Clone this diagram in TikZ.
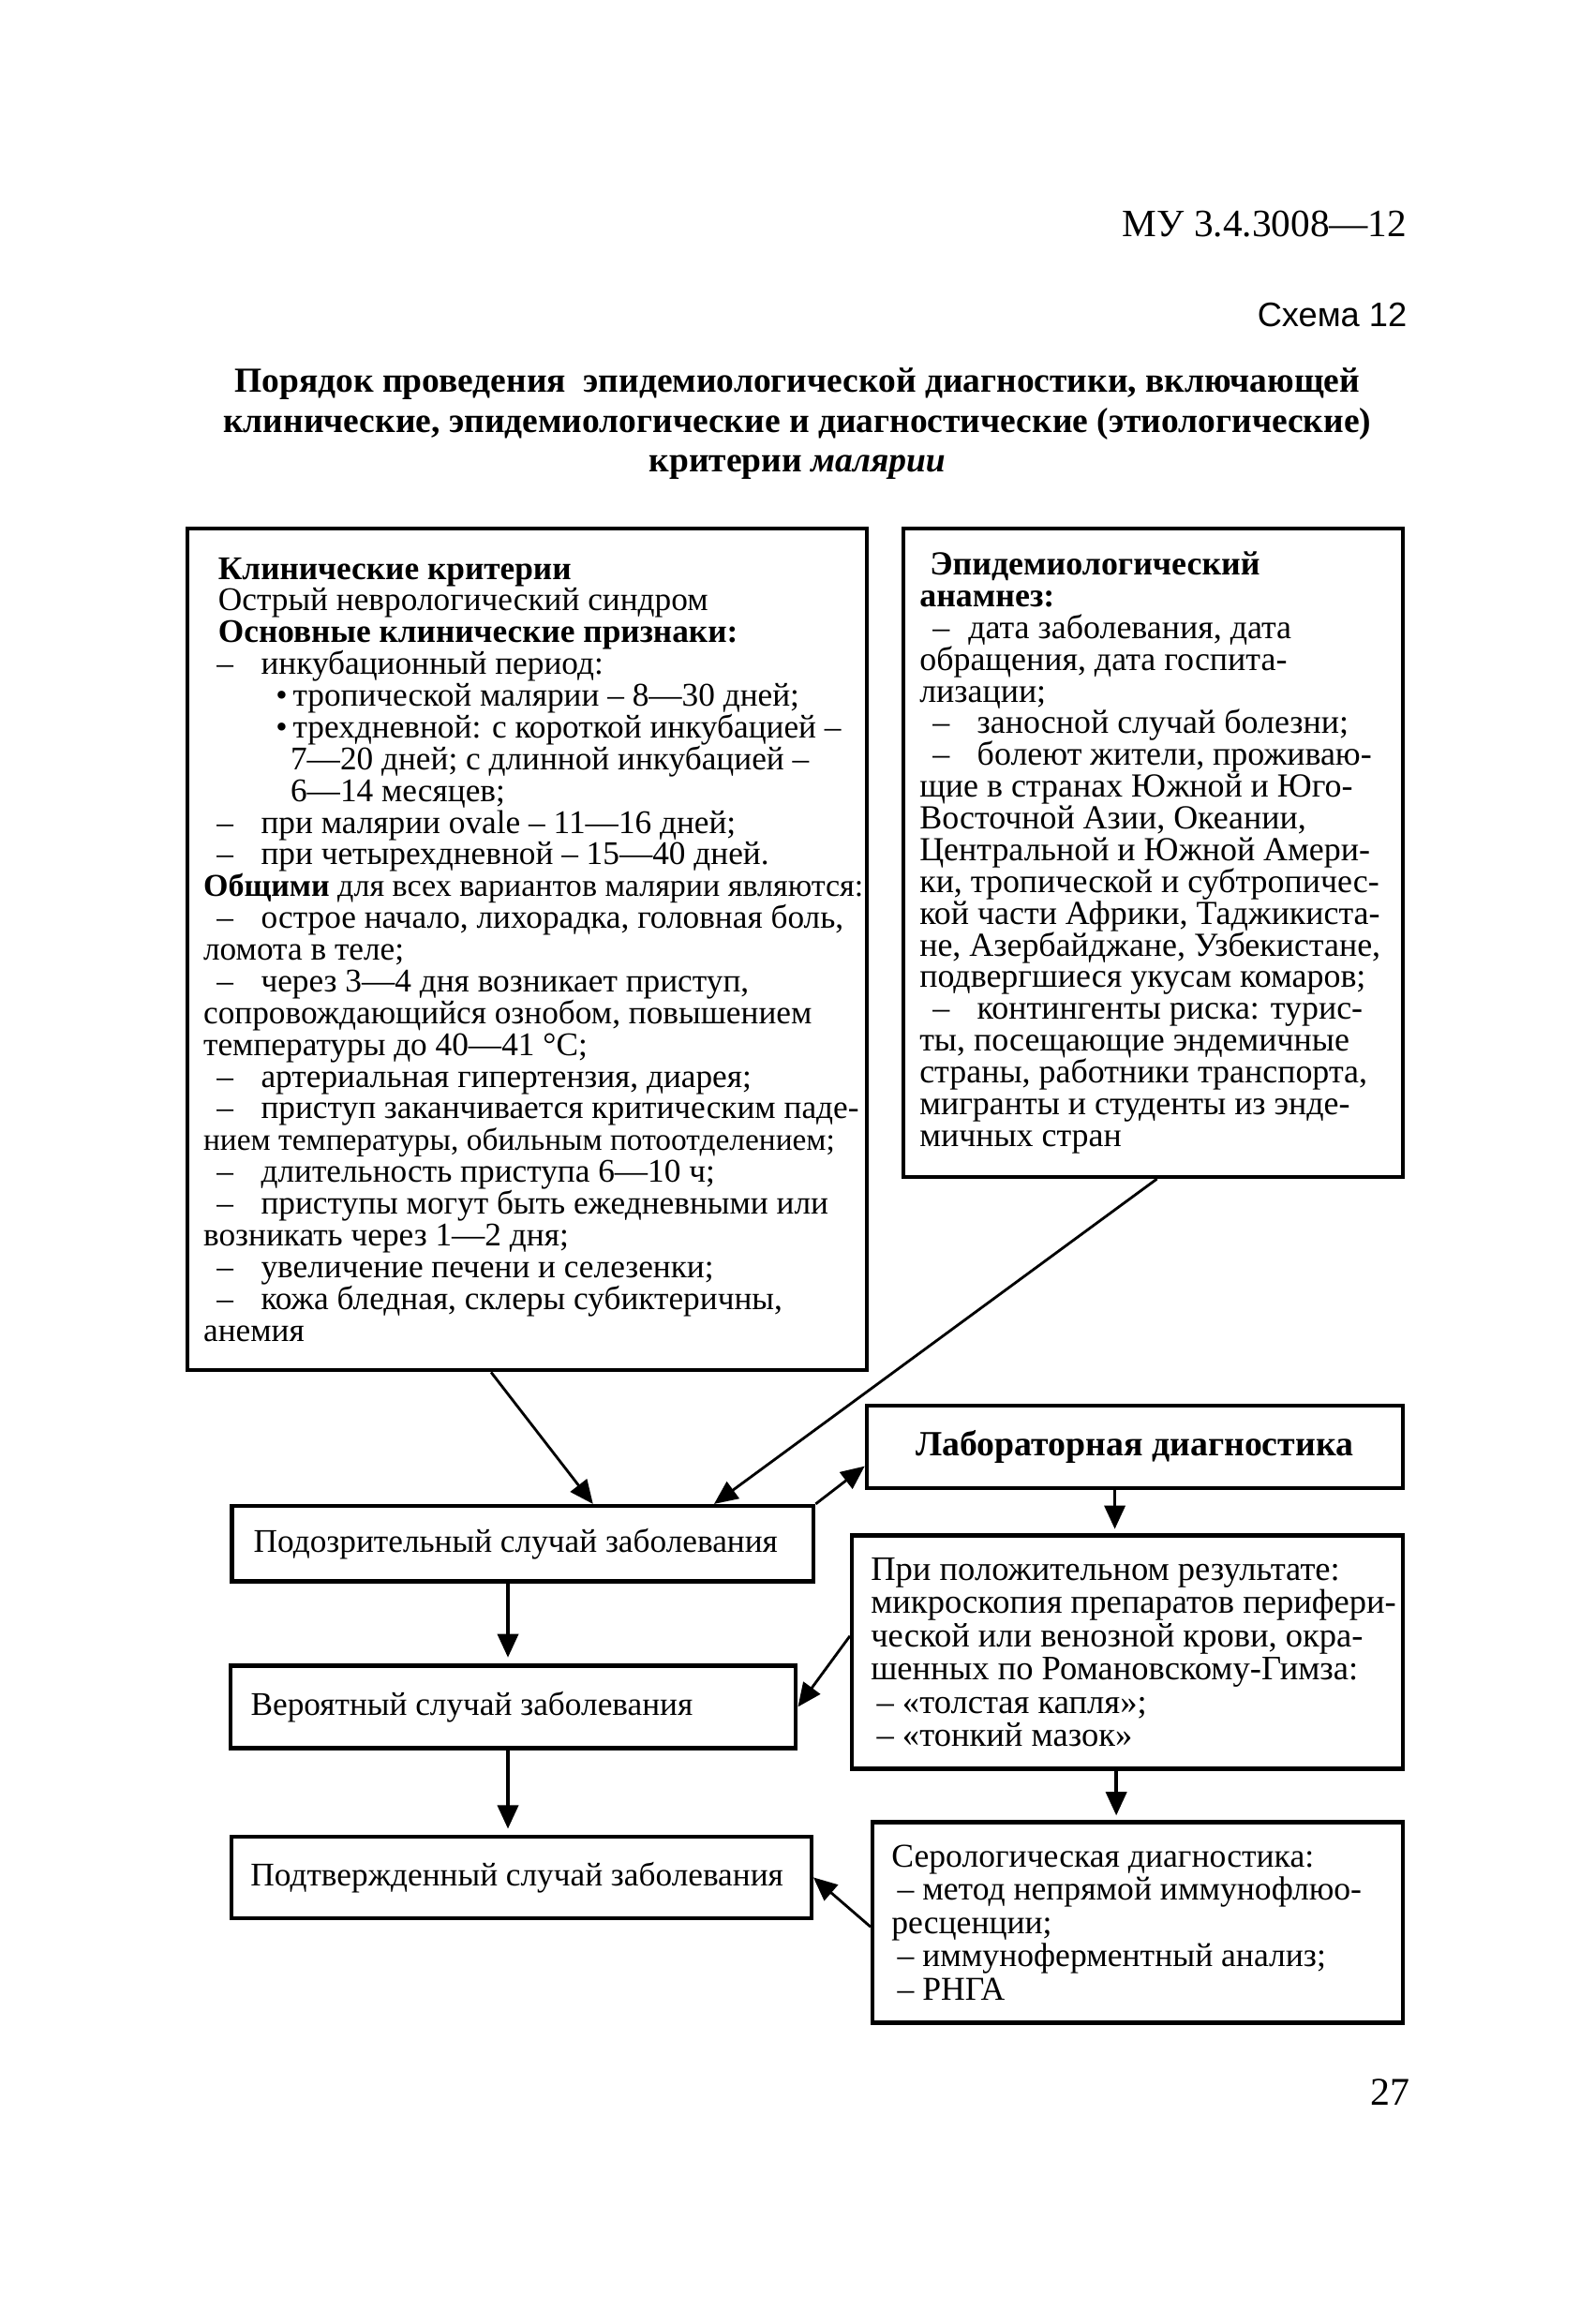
\documentclass[tikz,border=0pt]{standalone}
\usepackage{fontspec}
\setmainfont{Liberation Serif}
\newfontfamily\schemafont{Liberation Sans}
\usetikzlibrary{arrows.meta}

\newcommand{\boxfont}{\fontsize{11.2}{10.75}\selectfont\lineskiplimit=-20pt\relax}
\newcommand{\epifont}{\fontsize{11.4}{10.75}\selectfont\lineskiplimit=-20pt\relax}
\newcommand{\microfont}{\fontsize{11.6}{11.25}\selectfont\lineskiplimit=-20pt\relax}
\newcommand{\serofont}{\fontsize{11.3}{11.25}\selectfont\lineskiplimit=-20pt\relax}
\newcommand{\ttlfont}{\fontsize{11.9}{13.5}\selectfont\bfseries\lineskiplimit=-20pt\relax}
\newcommand{\dl}{\hspace*{4.5pt}\makebox[15pt][l]{–}}

\begin{document}
\begin{tikzpicture}[x=1pt, y=-1pt, line width=1.2pt,
    >={Triangle[length=8pt,width=7pt]},
    box/.style={draw, line width=1.4pt, inner sep=0pt},
    txt/.style={inner sep=0pt, align=left, anchor=west, font=\boxfont}]
    \useasboundingbox (0,0) rectangle (540,787);

    \node[anchor=base east, inner sep=0pt, font=\fontsize{13.1}{15}\selectfont] (mu) at (477,80) {МУ 3.4.3008—12};
    \node[anchor=base east, inner sep=0pt, font=\schemafont\fontsize{11.5}{13}\selectfont] (schema) at (477,110.5) {Схема 12};
    \node[anchor=north, align=center, inner sep=0pt, font=\ttlfont] (title) at (270,124)
        {Порядок проведения \ эпидемиологической диагностики, включающей\\
         клинические, эпидемиологические и диагностические (этиологические)\\
         критерии \textit{малярии}};

    \node[box, minimum width=230pt, minimum height=285pt] (clin) at (178.5,321.5) {};
    \node[txt] (clintext) at ([xshift=5.5pt]clin.west)
        {\hspace*{5pt}\textbf{Клинические критерии}\\
         \hspace*{5pt}Острый неврологический синдром\\
         \hspace*{5pt}\textbf{Основные клинические признаки:}\\
         \dl инкубационный период:\\
         \hspace*{24.5pt}•\,тропической малярии – 8—30 дней;\\
         \hspace*{24.5pt}•\,трехдневной: с короткой инкубацией –\\
         \hspace*{29.5pt}7—20 дней; с длинной инкубацией –\\
         \hspace*{29.5pt}6—14 месяцев;\\
         \dl при малярии ovale – 11—16 дней;\\
         \dl при четырехдневной – 15—40 дней.\\
         {\fontsize{10.8}{10.75}\selectfont\textbf{Общими} для всех вариантов малярии являются:}\\
         \dl острое начало, лихорадка, головная боль,\\
         ломота в теле;\\
         \dl через 3—4 дня возникает приступ,\\
         сопровождающийся ознобом, повышением\\
         температуры до 40—41 °C;\\
         \dl артериальная гипертензия, диарея;\\
         \dl приступ заканчивается критическим паде-\\
         {\fontsize{10.6}{10.75}\selectfont нием температуры, обильным потоотделением;}\\
         \dl длительность приступа 6—10 ч;\\
         \dl приступы могут быть ежедневными или\\
         возникать через 1—2 дня;\\
         \dl увеличение печени и селезенки;\\
         \dl кожа бледная, склеры субиктеричны,\\
         анемия};

    \node[box, minimum width=169pt, minimum height=219.5pt] (epi) at (390.5,288.75) {};
    \node[txt, font=\epifont] (epitext) at ([xshift=5.5pt]epi.west)
        {\hspace*{3.5pt}\textbf{Эпидемиологический}\\
         \textbf{анамнез:}\\
         \hspace*{4.5pt}\makebox[12pt][l]{–}дата заболевания, дата\\
         обращения, дата госпита-\\
         лизации;\\
         \dl заносной случай болезни;\\
         \dl болеют жители, проживаю-\\
         щие в странах Южной и Юго-\\
         Восточной Азии, Океании,\\
         Центральной и Южной Амери-\\
         ки, тропической и субтропичес-\\
         кой части Африки, Таджикиста-\\
         не, Азербайджане, Узбекистане,\\
         подвергшиеся укусам комаров;\\
         \dl контингенты риска: турис-\\
         ты, посещающие эндемичные\\
         страны, работники транспорта,\\
         мигранты и студенты из энде-\\
         мичных стран};

    \node[box, minimum width=181.5pt, minimum height=28pt, font=\fontsize{12}{13}\selectfont\bfseries] (lab) at (384.25,490) {Лабораторная диагностика};

    \node[box, minimum width=197pt, minimum height=25.5pt] (susp) at (177,522.75) {};
    \node[txt] (susptext) at ([xshift=7.5pt]susp.west) {Подозрительный случай заболевания};

    \node[box, minimum width=186.5pt, minimum height=79pt] (micro) at (381.75,559.5) {};
    \node[txt, font=\microfont] (microtext) at ([xshift=6.5pt]micro.west)
        {При положительном результате:\\
         микроскопия препаратов перифери-\\
         ческой или венозной крови, окра-\\
         шенных по Романовскому-Гимза:\\
         \hspace*{2pt}– «толстая капля»;\\
         \hspace*{2pt}– «тонкий мазок»};

    \node[box, minimum width=191.5pt, minimum height=28pt] (prob) at (173.75,578) {};
    \node[txt] (probtext) at ([xshift=7pt]prob.west) {Вероятный случай заболевания};

    \node[box, minimum width=179.5pt, minimum height=68pt] (sero) at (385.25,651) {};
    \node[txt, font=\serofont] (serotext) at ([xshift=6.5pt]sero.west)
        {Серологическая диагностика:\\
         \hspace*{2pt}– метод непрямой иммунофлюо-\\
         ресценции;\\
         \hspace*{2pt}– иммуноферментный анализ;\\
         \hspace*{2pt}– РНГА};

    \node[box, minimum width=196.25pt, minimum height=27.5pt] (conf) at (176.6,635.75) {};
    \node[txt] (conftext) at ([xshift=6.5pt]conf.west) {Подтвержденный случай заболевания};

    \node[anchor=east, inner sep=0pt, font=\fontsize{13.3}{15}\selectfont] (page) at (478,708.5) {27};

    \draw[->, line width=0.9pt] ([xshift=103.5pt]clin.south west) -- ([xshift=123pt]susp.north west);
    \draw[->, line width=0.9pt] ([xshift=86.5pt]epi.south west) -- ([xshift=164pt]susp.north west);
    \draw[->, line width=0.9pt] (susp.north east) -- ([yshift=-6.5pt]lab.west);
    \draw[->, shorten >=1.5pt] ([xshift=-6.75pt]lab.south) -- ([xshift=-4.25pt]micro.north);
    \draw[->, shorten >=2pt] ([xshift=-5pt]susp.south) -- ([xshift=-1.75pt]prob.north);
    \draw[->, line width=0.9pt] ([yshift=5.5pt]micro.west) -- (prob.east);
    \draw[->, shorten >=1.5pt] ([xshift=-3.75pt]micro.south) -- ([xshift=-7.25pt]sero.north);
    \draw[->, shorten >=2pt] ([xshift=-1.75pt]prob.south) -- ([xshift=-4.6pt]conf.north);
    \draw[->, line width=0.9pt] ([yshift=-1.5pt]sero.west) -- (conf.east);
\end{tikzpicture}
\end{document}
